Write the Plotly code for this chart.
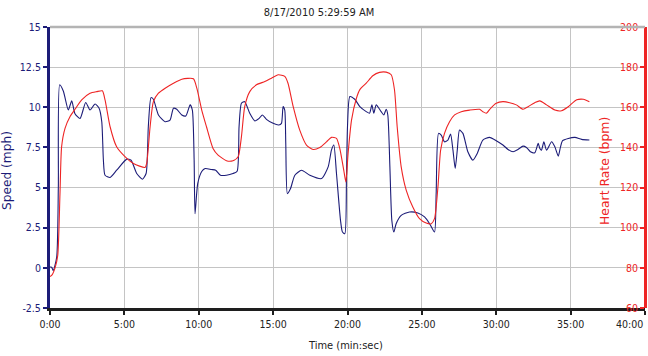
import plotly.graph_objects as go

# ---- data (time in minutes) ----
speed_t = [0.00, 0.11, 0.22, 0.45, 0.56, 0.65, 0.90, 1.23, 1.46, 1.68, 2.02, 2.40, 2.69, 3.03, 3.30, 3.48,
           3.59, 3.70, 4.04, 4.48, 5.16, 5.45, 5.83, 6.21, 6.46, 6.61, 6.79, 6.95, 7.29, 7.74, 8.07, 8.30,
           8.52, 8.86, 9.13, 9.42, 9.57, 9.69, 9.75, 9.93, 10.20, 10.43, 10.85, 11.14, 11.46, 11.86, 12.30,
           12.58, 12.71, 12.87, 13.09, 13.43, 13.77, 14.06, 14.28, 14.55, 15.00, 15.38, 15.56, 15.67, 15.78,
           15.85, 15.96, 16.17, 16.46, 16.91, 17.47, 18.25, 18.70, 18.92, 19.08, 19.26, 19.53, 19.66, 19.82,
           19.93, 20.00, 20.16, 20.49, 20.83, 21.26, 21.48, 21.64, 21.77, 21.93, 22.26, 22.44, 22.60, 22.71,
           22.85, 22.98, 23.12, 23.27, 23.61, 24.17, 24.73, 25.18, 25.52, 25.85, 25.96, 26.12, 26.30, 26.52,
           26.75, 26.93, 27.09, 27.24, 27.38, 27.53, 27.76, 28.09, 28.43, 28.72, 29.10, 29.55, 30.00, 30.45,
           30.79, 31.13, 31.46, 31.80, 32.03, 32.30, 32.59, 32.82, 32.93, 33.04, 33.20, 33.38, 33.72, 33.94,
           34.17, 34.32, 34.46, 34.84, 35.29, 35.74, 36.26]
speed_mph = [0.05, 0.04, -0.17, 0.67, 5.0, 11.4, 11.0, 9.83, 10.4, 9.6, 9.3, 10.3, 9.83, 10.2, 9.94, 9.1,
             6.7, 5.77, 5.63, 6.08, 6.77, 6.7, 5.875, 5.52, 5.875, 8.79, 10.6, 10.5, 9.52, 9.1, 9.2, 9.94,
             9.875, 9.52, 9.46, 10.15, 9.83, 6.7, 3.375, 5.25, 6.0, 6.19, 6.125, 6.08, 5.77, 5.77, 5.875,
             6.02, 8.79, 10.25, 10.35, 9.625, 9.15, 9.31, 9.52, 9.25, 9.0, 8.9, 9.0, 10.04, 9.83,
             7.75, 4.625, 4.94, 5.77, 6.08, 5.77, 5.56, 6.29, 7.33, 7.65, 5.875, 2.96, 2.23, 2.125,
             5.67, 8.79, 10.67, 10.5, 10.04, 9.73, 9.625, 10.15, 9.625, 10.15, 9.73, 9.52, 9.875, 9.52,
             6.29, 2.96, 2.23, 2.75, 3.27, 3.48, 3.42, 3.17, 2.75, 2.23, 4.625, 8.375, 8.27, 7.85,
             7.96, 8.33, 7.33, 6.19, 7.33, 8.58, 8.375, 7.23, 6.71, 7.125, 7.96, 8.125, 7.92, 7.65,
             7.375, 7.23, 7.375, 7.58, 7.5, 7.23, 7.17, 7.75, 7.44, 7.33, 7.85, 7.33, 7.85, 7.54,
             6.96, 7.54, 7.92, 8.06, 8.125, 8.0, 7.96]

hr_t = [0.00, 0.11, 0.34, 0.52, 0.67, 0.78, 1.01, 1.35, 1.68, 2.13, 2.69, 3.14, 3.52, 3.70, 4.04, 4.48,
        5.04, 5.61, 6.39, 6.50, 6.73, 6.95, 7.29, 7.74, 8.30, 8.86, 9.64, 9.87, 10.20, 10.52, 10.96, 11.30,
        11.86, 12.30, 12.65, 12.87, 13.09, 13.43, 13.88, 14.44, 14.89, 15.34, 15.78, 16.00, 16.35, 16.79,
        17.24, 17.69, 18.14, 18.59, 18.92, 19.26, 19.48, 19.75, 19.89, 20.04, 20.27, 20.60, 20.83, 21.26,
        21.70, 22.15, 22.60, 22.94, 23.16, 23.34, 23.61, 23.95, 24.39, 24.84, 25.29, 25.63, 25.85, 26.08,
        26.26, 26.52, 26.86, 27.20, 27.65, 28.21, 28.88, 29.10, 29.33, 29.62, 30.00, 30.45, 30.90, 31.35,
        31.80, 32.14, 32.59, 32.93, 33.38, 33.94, 34.39, 34.84, 35.41, 35.86, 36.26]
hr_bpm = [75.7, 76.2, 80.0, 86.2, 116.8, 140.3, 149.5, 155.4, 159.0, 163.7, 167.0, 167.8, 168.2, 163.7, 150.3, 140.3,
          135.4, 132.0, 130.0, 132.0, 150.3, 162.8, 167.0, 169.5, 172.0, 174.0, 174.2, 169.5, 158.6, 150.3, 139.5, 136.2,
          133.4, 133.4, 135.4, 145.4, 160.3, 167.8, 171.2, 172.8, 174.5, 176.2, 175.4, 172.0, 160.3, 148.6,
          141.2, 139.0, 140.0, 142.8, 145.0, 144.5, 139.5, 128.6, 122.8, 137.0, 153.6, 164.5, 168.8, 172.0,
          175.7, 177.4, 177.5, 176.2, 168.6, 150.3, 130.3, 118.6, 110.3, 104.5, 102.3, 102.0, 104.5, 120.3,
          138.6, 147.0, 152.8, 156.2, 157.8, 158.6, 159.0, 157.8, 157.0, 159.5, 162.0, 162.8, 162.3, 161.2,
          159.0, 160.3, 162.3, 163.2, 161.2, 158.6, 158.3, 160.3, 163.7, 164.0, 162.8]

time_ticks = [0, 5, 10, 15, 20, 25, 30, 35, 40]
time_labels = ["0:00", "5:00", "10:00", "15:00", "20:00", "25:00", "30:00", "35:00", ""]
last_time_label = "40:00"
speed_ticks = [-2.5, 0, 2.5, 5, 7.5, 10, 12.5, 15]
speed_labels = ["-2.5", "0", "2.5", "5", "7.5", "10", "12.5", "15"]
hr_ticks = [60, 80, 100, 120, 140, 160, 180, 200]

title_text = "8/17/2010 5:29:59 AM"
x_title = "Time (min:sec)"
y_title = "Speed (mph)"
y2_title = "Heart Rate (bpm)"

NAVY = "#1c1c78"
RED = "#ee2424"
FONT = "DejaVu Sans Condensed, Liberation Sans, sans-serif"

fig = go.Figure()
fig.add_trace(go.Scatter(x=speed_t, y=speed_mph, mode="lines",
                         line=dict(color=NAVY, width=1.1, shape="spline", smoothing=0.6),
                         yaxis="y", showlegend=False, hoverinfo="skip"))
fig.add_trace(go.Scatter(x=hr_t, y=hr_bpm, mode="lines",
                         line=dict(color=RED, width=1.1, shape="spline", smoothing=0.6),
                         yaxis="y2", showlegend=False, hoverinfo="skip"))

fig.update_layout(
    width=648, height=356,
    margin=dict(l=50, r=3, t=27, b=48, autoexpand=False),
    paper_bgcolor="white", plot_bgcolor="white",
    font=dict(family=FONT, size=10.5, color="#222222"),
    title=dict(text=title_text, x=319 / 648, xanchor="center", xref="container",
               y=1 - 12 / 356, yanchor="middle", yref="container",
               font=dict(family=FONT, size=11, color="#222222")),
    xaxis=dict(range=[0, 40], tickvals=time_ticks, ticktext=time_labels,
               showgrid=True, gridcolor="#c4c4c4", gridwidth=1,
               showline=True, linecolor="#1e1e1e", linewidth=3,
               ticks="outside", ticklen=4, tickcolor="#1e1e1e", tickwidth=1.5,
               zeroline=False, fixedrange=True),
    yaxis=dict(range=[-2.5, 15], tickvals=speed_ticks, ticktext=speed_labels,
               showgrid=True, gridcolor="#c4c4c4", gridwidth=1,
               showline=True, linecolor=NAVY, linewidth=3,
               ticks="outside", ticklen=4, tickcolor=NAVY, tickwidth=1.5,
               tickfont=dict(color=NAVY), zeroline=False, fixedrange=True),
    yaxis2=dict(range=[60, 200], tickvals=hr_ticks, overlaying="y", side="left",
                anchor="free", position=1.0,
                showgrid=False, showline=True, linecolor=RED, linewidth=2.5,
                ticks="outside", ticklen=4, tickcolor=RED, tickwidth=1.5,
                tickfont=dict(color=RED), automargin=False,
                zeroline=False, fixedrange=True),
    shapes=[dict(type="line", xref="paper", yref="paper", x0=0, x1=1, y0=1, y1=1,
                 line=dict(color="#b4b4b4", width=2.5), layer="above")],
    annotations=[
        dict(text=x_title, xref="paper", yref="paper", x=(345 - 50) / 595, y=(308 - 345) / 281,
             xanchor="center", yanchor="middle", showarrow=False,
             font=dict(family=FONT, size=11, color="#222222")),
        dict(text=y_title, xref="paper", yref="paper", x=(7 - 50) / 595, y=(308 - 170) / 281,
             xanchor="center", yanchor="middle", textangle=-90, showarrow=False,
             font=dict(family="DejaVu Sans, sans-serif", size=12.2, color=NAVY)),
        dict(text=y2_title, xref="paper", yref="paper", x=(604 - 50) / 595, y=(308 - 171) / 281,
             xanchor="center", yanchor="middle", textangle=-90, showarrow=False,
             font=dict(family="DejaVu Sans, sans-serif", size=12.4, color=RED)),
        dict(text=last_time_label, xref="x", yref="paper", x=40, y=0, yshift=-16,
             xanchor="right", yanchor="middle", showarrow=False,
             font=dict(family=FONT, size=10.5, color="#222222")),
    ],
)

fig.write_html("out.html", config={"displayModeBar": False},
               post_script="document.body.style.margin='0';document.body.style.overflow='hidden';")
